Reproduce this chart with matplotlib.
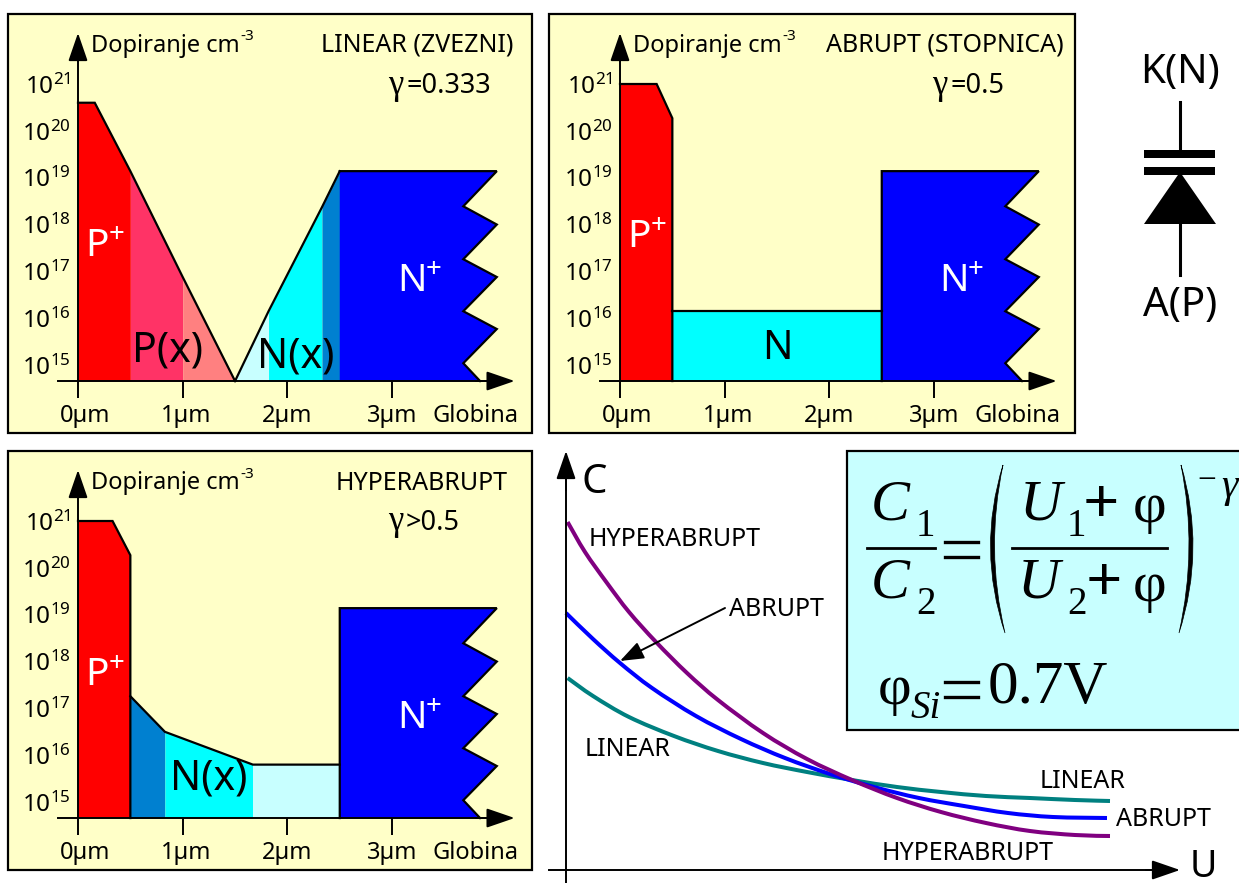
import numpy as np
import matplotlib
matplotlib.use("Agg")
import matplotlib.pyplot as plt
from matplotlib.patches import Rectangle, PathPatch, Polygon
from matplotlib.path import Path
from matplotlib.transforms import ScaledTranslation

W, H = 1239, 883
plt.rcParams['font.family'] = ['Noto Sans', 'DejaVu Sans']
plt.rcParams['mathtext.fontset'] = 'custom'
plt.rcParams['mathtext.rm'] = 'Noto Sans'

# ---- data: doping profiles (depth in um, log10 doping) ----
BASE = 14.66
DEPTH_TICKS = [0, 1, 2, 3]
DEPTH_LABELS = ['0µm', '1µm', '2µm', '3µm']
DECADES = [15, 16, 17, 18, 19, 20, 21]
DECADE_LABELS = [rf'$\mathregular{{10^{{{d}}}}}$' for d in DECADES]

RED, PINK, SALMON = '#ff0000', '#ff3366', '#ff8080'
PALE, CYAN, STEEL, BLUE = '#c8ffff', '#00ffff', '#0080d0', '#0000ff'

linear_p_x = [0, 0.16, 0.5, 1.0, 1.5]
linear_p_y = [20.6, 20.6, 19.14, 16.88, BASE]
linear_n_x = [1.5, 1.82, 2.33, 2.5]
linear_n_y = [BASE, 16.15, 18.37, 19.14]

abrupt_p_x = [0, 0.35, 0.5]
abrupt_p_y = [21.0, 21.0, 20.27]
abrupt_n_x = [0.5, 2.5]
abrupt_n_y = [16.15, 16.15]

hyper_p_x = [0, 0.33, 0.5]
hyper_p_y = [21.0, 21.0, 20.27]
hyper_n_x = [0.5, 0.83, 1.67, 2.5]
hyper_n_y = [17.26, 16.5, 15.8, 15.8]

nplus_x = [2.5, 4.0, 3.68, 4.0, 3.68, 4.0, 3.68, 4.0, 3.68, 3.84, 2.5]
nplus_y = [19.14, 19.14, 18.39, 18.0, 17.26, 16.88, 16.15, 15.77, 15.04, BASE, BASE]

# ---- data: C(U) curves (arbitrary units) ----
hyper_u = [0.016, 0.19, 0.41, 0.63, 0.90, 1.21, 1.52, 1.97, 2.41, 2.86, 3.31, 3.75, 4.20, 4.64, 5.09, 5.44]
hyper_c = [3.48, 3.18, 2.87, 2.58, 2.28, 1.97, 1.70, 1.37, 1.11, 0.90, 0.72, 0.58, 0.47, 0.39, 0.35, 0.34]
abrupt_u = [0.0, 0.27, 0.54, 0.86, 1.30, 1.75, 2.19, 2.64, 3.08, 3.53, 3.98, 4.42, 4.87, 5.41]
abrupt_c = [2.57, 2.31, 2.07, 1.82, 1.54, 1.31, 1.12, 0.96, 0.83, 0.72, 0.64, 0.57, 0.53, 0.52]
linear_u = [0.016, 0.27, 0.63, 1.08, 1.52, 1.97, 2.41, 2.86, 3.31, 3.75, 4.20, 4.64, 5.09, 5.44]
linear_c = [1.92, 1.74, 1.53, 1.34, 1.19, 1.07, 0.98, 0.90, 0.83, 0.78, 0.74, 0.72, 0.70, 0.69]

fig = plt.figure(figsize=(W / 100, H / 100), dpi=100, facecolor='white')


def axes_px(x0, y0, x1, y1):
    return fig.add_axes([x0 / W, 1 - y1 / H, (x1 - x0) / W, (y1 - y0) / H])


def arrow(ax, tip, start):
    ax.annotate('', xy=tip, xytext=start, annotation_clip=False,
                arrowprops=dict(arrowstyle='-|>,head_length=1.45,head_width=0.5', mutation_scale=12,
                                color='black', lw=1.4, shrinkA=0, shrinkB=0))


def panel(x0, y0, x1, y1, origin):
    ax = axes_px(x0, y0, x1, y1)
    ax.set_facecolor('#ffffc8')
    sx, sy = 104.7, 46.85
    ax.set_xlim((x0 - origin) / sx, (x1 - origin) / sx)
    ax.set_ylim(21 - (y1 - y0 - 70) / sy, 21 + 70 / sy)
    for s in ['top', 'right']:
        ax.spines[s].set_visible(False)
    ax.spines['left'].set_position(('data', 0))
    ax.spines['bottom'].set_position(('data', BASE))
    ax.spines['left'].set_linewidth(1.4)
    ax.spines['bottom'].set_linewidth(1.4)
    ax.spines['left'].set_bounds(BASE, 21.9)
    ax.spines['bottom'].set_bounds(-0.19, 3.9)
    ax.set_xticks(DEPTH_TICKS, DEPTH_LABELS, fontsize=17)
    ax.set_yticks(DECADES, DECADE_LABELS, fontsize=17.5)
    ax.tick_params(axis='x', length=12, width=1.4, pad=4.5)
    ax.tick_params(axis='y', length=0, pad=5.5)
    for lab, dx in zip(ax.get_xticklabels(), [7, 3, 0, 0]):
        lab.set_transform(lab.get_transform() + ScaledTranslation(dx / 100, 0, fig.dpi_scale_trans))
    arrow(ax, (0, 21 + 51 / sy), (0, 21.5))
    arrow(ax, (4.17, BASE), (3.8, BASE))
    ax.add_patch(Rectangle((0, 0), 1, 1, transform=ax.transAxes, fill=False, ec='black', lw=1.6,
                           clip_on=False, zorder=6))
    return ax


def band(ax, xs, ys, color):
    ax.fill_between(xs, ys, BASE, color=color, lw=0, zorder=1)


def outline(ax, xs, ys):
    ax.plot(xs, ys, color='black', lw=1.6, solid_joinstyle='miter', zorder=3)


def smooth_line(ax, xs, ys, color):
    """Draw a smooth Bezier line through the points that were read."""
    p = np.column_stack([xs, ys])
    q = np.vstack([p[0], p, p[-1]])
    verts, codes = [p[0]], [Path.MOVETO]
    for i in range(1, len(q) - 2):
        verts += [q[i] + (q[i + 1] - q[i - 1]) / 6, q[i + 1] - (q[i + 2] - q[i]) / 6, q[i + 1]]
        codes += [Path.CURVE4] * 3
    ax.add_patch(PathPatch(Path(np.array(verts), codes), fc='none', ec=color, lw=2.9, capstyle='butt'))


# ---- panel 1: linear ----
a1 = panel(8, 14, 532, 433, 78)
band(a1, linear_p_x[:3], linear_p_y[:3], RED)
band(a1, linear_p_x[2:4], linear_p_y[2:4], PINK)
band(a1, linear_p_x[3:5], linear_p_y[3:5], SALMON)
band(a1, linear_n_x[:2], linear_n_y[:2], PALE)
band(a1, linear_n_x[1:3], linear_n_y[1:3], CYAN)
band(a1, linear_n_x[2:4], linear_n_y[2:4], STEEL)
a1.fill(nplus_x, nplus_y, color=BLUE, lw=0, zorder=1)
outline(a1, linear_p_x, linear_p_y)
outline(a1, linear_n_x, linear_n_y)
outline(a1, nplus_x[:10], nplus_y[:10])

# ---- panel 2: abrupt ----
a2 = panel(549, 14, 1075, 433, 620)
a2.fill(abrupt_p_x + [0.5, 0], abrupt_p_y + [BASE, BASE], color=RED, lw=0, zorder=1)
band(a2, abrupt_n_x, abrupt_n_y, CYAN)
a2.fill(nplus_x, nplus_y, color=BLUE, lw=0, zorder=1)
outline(a2, abrupt_p_x + [0.5], abrupt_p_y + [BASE])
outline(a2, abrupt_n_x, abrupt_n_y)
outline(a2, [2.5] + nplus_x[:10], [BASE] + nplus_y[:10])

# ---- panel 3: hyperabrupt ----
a3 = panel(8, 451, 532, 870, 78)
a3.fill(hyper_p_x + [0.5, 0], hyper_p_y + [BASE, BASE], color=RED, lw=0, zorder=1)
band(a3, hyper_n_x[:2], hyper_n_y[:2], STEEL)
band(a3, hyper_n_x[1:3], hyper_n_y[1:3], CYAN)
band(a3, hyper_n_x[2:4], hyper_n_y[2:4], PALE)
a3.fill(nplus_x, nplus_y, color=BLUE, lw=0, zorder=1)
outline(a3, hyper_p_x + [0.5], hyper_p_y + [BASE])
outline(a3, hyper_n_x, hyper_n_y)
outline(a3, [2.5] + nplus_x[:10], [BASE] + nplus_y[:10])

# ---- C(U) plot ----
c = axes_px(549, 451, 1239, 883)
c.patch.set_alpha(0)
c.set_xlim(-0.17, 6.73)
c.set_ylim(-0.13, 4.19)
c.set_xticks([])
c.set_yticks([])
for s in ['top', 'right']:
    c.spines[s].set_visible(False)
c.spines['left'].set_position(('data', 0))
c.spines['bottom'].set_position(('data', 0))
c.spines['left'].set_linewidth(1.4)
c.spines['bottom'].set_linewidth(1.4)
c.spines['left'].set_bounds(-0.13, 4.0)
c.spines['bottom'].set_bounds(-0.17, 6.0)
arrow(c, (0, 4.19), (0, 3.8))
arrow(c, (6.14, 0), (5.8, 0))
smooth_line(c, linear_u, linear_c, '#008080')
smooth_line(c, abrupt_u, abrupt_c, '#0000ff')
smooth_line(c, hyper_u, hyper_c, '#800080')

# ---- overlay in pixel coordinates: labels, formula, diode ----
ov = fig.add_axes([0, 0, 1, 1], zorder=10)
ov.set_xlim(0, W)
ov.set_ylim(H, 0)
ov.axis('off')
ov.patch.set_alpha(0)


def T(x, y, s, size=18, ha='left', color='black', dy=2, **kw):
    ov.text(x, y + dy, s, fontsize=size, ha=ha, va='center', color=color, **kw)


LAB = 18
for dx, dy in [(0, 0), (542, 0), (0, 437)]:
    T(91 + dx, 44 + dy, 'Dopiranje cm', 17)
    T(240 + dx, 35 + dy, '-3', 11)
    T(476 + dx, 414 + dy, 'Globina', 17, ha='center')

T(513, 43, 'LINEAR (ZVEZNI)', LAB, ha='right')
T(1064, 43, 'ABRUPT (STOPNICA)', LAB, ha='right')
T(508, 481, 'HYPERABRUPT', LAB, ha='right')

SERIF = 'Liberation Serif'
T(388, 85, 'γ', 25, family=SERIF, dy=0)
T(406, 84, '=0.333', 19.5)
T(932, 85, 'γ', 25, family=SERIF, dy=0)
T(950, 84, '=0.5', 19.5)
T(388, 522, 'γ', 25, family=SERIF, dy=0)
T(406, 521, '>0.5', 19.5)


def PN(x, y, s, plus_dx, color='white'):
    T(x, y + 1, s, 28, color=color)
    T(x + plus_dx, y - 10, '+', 20, color=color)


PN(85, 243, 'P', 24)
PN(627, 234, 'P', 24)
PN(85, 672, 'P', 24)
PN(397, 278, 'N', 29)
PN(939, 278, 'N', 29)
PN(397, 715, 'N', 29)
T(168, 349, 'P(x)', 29.5, ha='center')
T(296, 355, 'N(x)', 29.5, ha='center')
T(777, 347, 'N', 29, ha='center')
T(209, 777, 'N(x)', 29.5, ha='center')

T(589, 537, 'HYPERABRUPT', LAB)
T(729, 608, 'ABRUPT', LAB)
T(585, 748, 'LINEAR', LAB)
T(1040, 779, 'LINEAR', LAB)
T(1116, 817, 'ABRUPT', LAB)
T(882, 852, 'HYPERABRUPT', LAB)
T(581, 481, 'C', 29)
T(1190, 865, 'U', 27)
ov.annotate('', xy=(620, 661), xytext=(725, 608),
            arrowprops=dict(arrowstyle='-|>,head_length=1.2,head_width=0.45', mutation_scale=12,
                            color='black', lw=1.4, shrinkA=0, shrinkB=0))

# formula box
ov.add_patch(Rectangle((847, 451), 420, 279, fc='#c8ffff', ec='black', lw=1.6, clip_on=True))
F = dict(family=SERIF, dy=0)
T(871, 505, 'C', 42, style='italic', **F)
T(916, 526, '1', 28, **F)
T(871, 584, 'C', 42, style='italic', **F)
T(916, 605, '2', 28, **F)
ov.plot([867, 935], [548, 548], color='black', lw=2)
ov.plot([1012, 1167], [548, 548], color='black', lw=2)
T(1020, 505, 'U', 42, style='italic', **F)
T(1067, 526, '1', 28, **F)
T(1101, 507, '+', 46, weight='bold', ha='center', **F)
T(1133, 508, 'φ', 42, **F)
T(1018, 584, 'U', 42, style='italic', **F)
T(1067, 605, '2', 28, **F)
T(1104, 585, '+', 46, weight='bold', ha='center', **F)
T(1133, 587, 'φ', 42, **F)
T(1197, 481, '−', 24, **F)
T(1221, 487, 'γ', 30, style='italic', **F)
for yb in [(542, 557), (682, 697)]:
    for y in yb:
        ov.plot([945, 978], [y, y], color='black', lw=2.4)
T(878, 690, 'φ', 42, **F)
T(911, 708, 'Si', 28, style='italic', **F)
T(988, 688, '0.7V', 44, **F)


def paren(top_x, bot_x, outer, inner):
    verts = [(top_x, 465), (outer, 549), (bot_x, 633), (inner, 549), (top_x, 465)]
    codes = [Path.MOVETO, Path.CURVE3, Path.CURVE3, Path.CURVE3, Path.CURVE3]
    ov.add_patch(PathPatch(Path(verts, codes), fc='black', ec='black', lw=0.5))


paren(1003, 1005, 977, 985)
paren(1181, 1179, 1206, 1198)

# diode symbol
T(1180, 71, 'K(N)', 29, ha='center')
T(1180, 304, 'A(P)', 29, ha='center')
ov.plot([1180, 1180], [102, 150], color='black', lw=2.2)
ov.plot([1180, 1180], [224, 275], color='black', lw=2.2)
ov.add_patch(Rectangle((1144, 150), 71, 8, fc='black', ec='none'))
ov.add_patch(Rectangle((1144, 167), 71, 8, fc='black', ec='none'))
ov.add_patch(Polygon([(1180, 172), (1144, 224), (1216, 224)], closed=True, fc='black', ec='none'))

fig.savefig('out.png', dpi=100)
